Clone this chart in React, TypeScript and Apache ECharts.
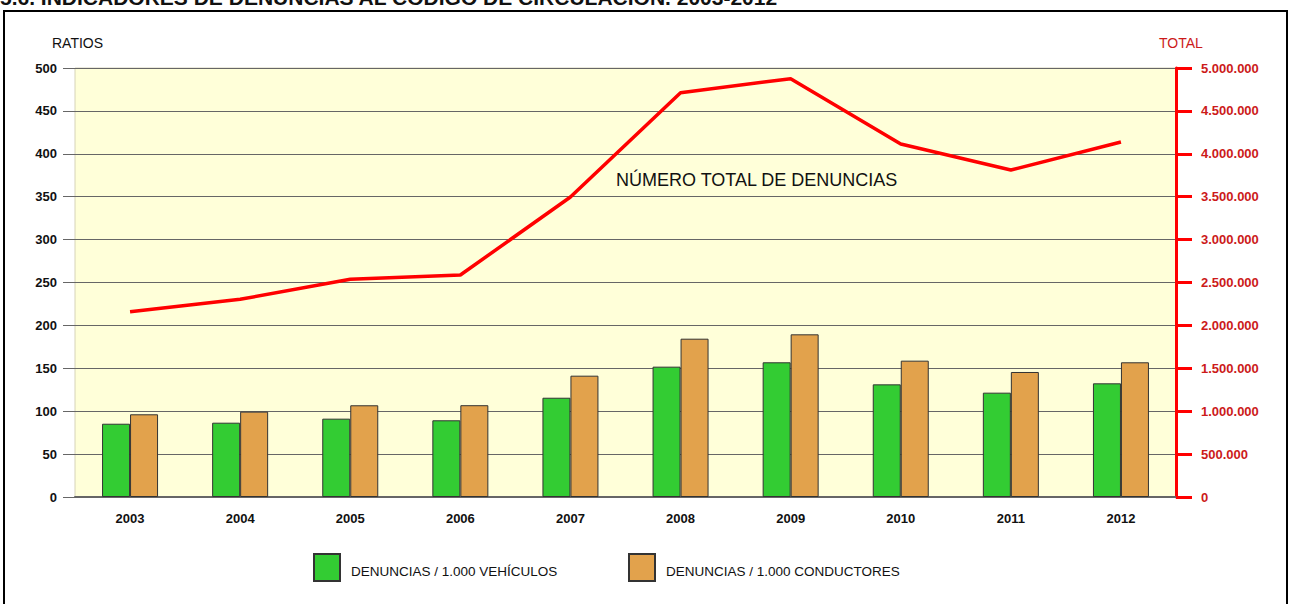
import { useEffect, useRef } from "react";
import * as echarts from "echarts";

const years = ["2003", "2004", "2005", "2006", "2007", "2008", "2009", "2010", "2011", "2012"];
const perVehicles = [85.4, 86.6, 91.3, 89.4, 115.7, 151.9, 157.0, 131.3, 121.6, 132.5];
const perDrivers = [96.4, 99.5, 106.9, 107.0, 141.4, 184.5, 189.6, 158.9, 145.7, 157.0];
const totalComplaints = [2160000, 2304000, 2537000, 2587000, 3497000, 4712000, 4876000, 4114000, 3811000, 4138000];

const seriesNames = ["DENUNCIAS / 1.000 VEHÍCULOS", "DENUNCIAS / 1.000 CONDUCTORES", "NÚMERO TOTAL DE DENUNCIAS"];
const titleText = "5.6. INDICADORES DE DENUNCIAS AL CÓDIGO DE CIRCULACIÓN. 2003-2012";

const FONT = "'Liberation Sans', Arial, sans-serif";

function fmtThousands(v: number): string {
  return Math.round(v).toString().replace(/\B(?=(\d{3})+(?!\d))/g, ".");
}

const legendText = {
  fontSize: 13.5,
  color: "#111",
  fontFamily: FONT,
  rich: {
    t: { fontSize: 13.5, color: "#111", fontFamily: FONT, padding: [8, 0, 0, 6] },
  },
};

export default function App() {
  const ref = useRef<HTMLDivElement>(null);
  useEffect(() => {
    if (!ref.current) return;
    const chart = echarts.init(ref.current, null, { renderer: "svg" });
    chart.setOption({
      animation: false,
      backgroundColor: "#ffffff",
      textStyle: { fontFamily: FONT },
      grid: {
        left: 75,
        right: 114,
        top: 68,
        bottom: 107,
        show: true,
        backgroundColor: "#ffffd9",
        borderColor: "#d6d3b8",
        borderWidth: 1,
      },
      legend: [
        {
          left: 308,
          top: 548,
          itemWidth: 26,
          itemHeight: 27,
          icon: "rect",
          data: [seriesNames[0]],
          formatter: "{t|{name}}",
          textStyle: legendText,
        },
        {
          left: 623,
          top: 548,
          itemWidth: 26,
          itemHeight: 27,
          icon: "rect",
          data: [seriesNames[1]],
          formatter: "{t|{name}}",
          textStyle: legendText,
        },
      ],
      xAxis: {
        type: "category",
        data: years,
        axisLine: { lineStyle: { color: "#666666", width: 2 } },
        axisTick: { show: false },
        axisLabel: { fontSize: 13, fontWeight: "bold", color: "#111", margin: 15, fontFamily: FONT },
      },
      yAxis: [
        {
          type: "value",
          min: 0,
          max: 500,
          interval: 50,
          axisLine: { show: false },
          axisTick: { show: true, length: 12, lineStyle: { color: "#666666", width: 1 } },
          axisLabel: { fontSize: 13, fontWeight: "bold", color: "#111", margin: 18, fontFamily: FONT },
          splitLine: { show: true, lineStyle: { color: "#666666", width: 1 } },
        },
        {
          type: "value",
          min: 0,
          max: 5000000,
          interval: 500000,
          position: "right",
          axisLine: { show: true, lineStyle: { color: "#ff0000", width: 3 } },
          axisTick: { show: true, length: 16, lineStyle: { color: "#ff0000", width: 3 } },
          axisLabel: {
            fontSize: 13,
            fontWeight: "bold",
            color: "#cc1a1a",
            margin: 25,
            fontFamily: FONT,
            formatter: (v: number) => fmtThousands(v),
          },
          splitLine: { show: false },
        },
      ],
      series: [
        {
          name: seriesNames[0],
          type: "bar",
          data: perVehicles,
          barWidth: 28,
          barGap: "0%",
          itemStyle: { color: "#33cc33", borderColor: "#333333", borderWidth: 1 },
        },
        {
          name: seriesNames[1],
          type: "bar",
          data: perDrivers,
          barWidth: 28,
          barGap: "0%",
          itemStyle: { color: "#e2a24c", borderColor: "#333333", borderWidth: 1 },
        },
        {
          name: seriesNames[2],
          type: "line",
          yAxisIndex: 1,
          data: totalComplaints,
          symbol: "none",
          lineStyle: { color: "#ff0000", width: 3.5 },
          itemStyle: { color: "#ff0000" },
          z: 5,
        },
      ],
      graphic: [
        {
          type: "rect",
          shape: { x: 4, y: 11, width: 1283, height: 610 },
          style: { fill: "none", stroke: "#000", lineWidth: 2 },
          silent: true,
        },
        {
          type: "text",
          x: 0,
          y: 8,
          style: {
            text: titleText,
            font: `bold 21px ${FONT}`,
            fill: "#111",
            textVerticalAlign: "bottom",
          },
        },
        {
          type: "text",
          x: 52,
          y: 43,
          style: { text: "RATIOS", font: `14px ${FONT}`, fill: "#111", textVerticalAlign: "middle" },
        },
        {
          type: "text",
          x: 1159,
          y: 43,
          style: { text: "TOTAL", font: `14px ${FONT}`, fill: "#cc1a1a", textVerticalAlign: "middle" },
        },
        {
          type: "text",
          x: 616,
          y: 180,
          z: 10,
          style: { text: seriesNames[2], font: `18px ${FONT}`, fill: "#111", textVerticalAlign: "middle" },
        },
      ],
    });
    return () => chart.dispose();
  }, []);
  return (
    <div
      ref={ref}
      style={{ position: "fixed", left: 0, top: 0, width: 1290, height: 604 }}
    />
  );
}
